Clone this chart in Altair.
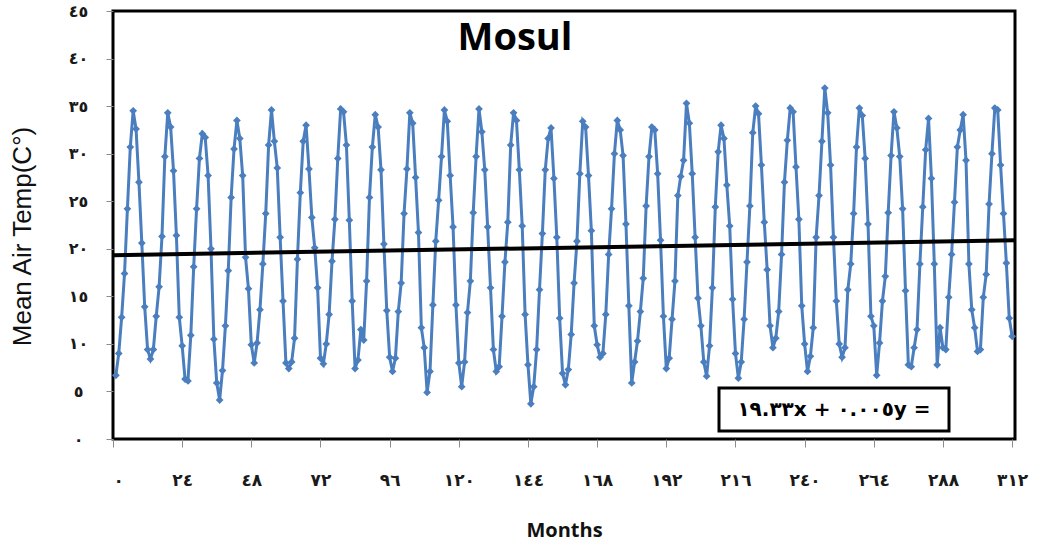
import altair as alt
import pandas as pd

# Monthly mean air temperature at Mosul (26 years x 12 months)
temps = [
    6.7, 9.0, 12.8, 17.4, 24.2, 30.7, 34.5, 32.6, 27.0, 20.6, 13.9, 9.4,
    8.4, 9.4, 12.9, 16.0, 21.3, 29.7, 34.3, 32.8, 28.2, 21.4, 12.8, 9.8,
    6.3, 6.1, 10.9, 18.1, 24.2, 29.5, 32.1, 31.7, 27.7, 20.0, 10.5, 5.9,
    4.1, 7.2, 11.9, 17.7, 25.4, 30.5, 33.5, 31.6, 27.7, 19.1, 15.8, 9.9,
    8.0, 10.1, 13.6, 18.4, 23.7, 30.9, 34.6, 31.3, 28.5, 21.2, 14.5, 8.0,
    7.4, 8.1, 10.6, 18.9, 25.9, 31.3, 33.0, 28.4, 23.3, 20.1, 15.9, 8.5,
    7.9, 10.0, 13.1, 18.7, 23.1, 29.5, 34.7, 34.4, 30.9, 23.0, 14.5, 7.4,
    8.3, 11.5, 10.4, 16.6, 25.4, 30.7, 34.1, 32.8, 28.3, 20.5, 13.5, 8.6,
    7.1, 8.5, 13.4, 16.4, 23.7, 28.4, 34.3, 33.2, 27.5, 21.7, 11.7, 9.6,
    4.9, 7.1, 14.1, 20.8, 25.1, 29.7, 34.6, 33.4, 27.7, 22.3, 14.1, 8.0,
    5.5, 8.1, 13.3, 16.6, 23.8, 29.7, 34.7, 32.3, 28.3, 22.3, 15.9, 9.4,
    7.1, 7.6, 12.9, 18.6, 22.8, 30.9, 34.3, 33.5, 28.3, 22.4, 13.1, 7.8,
    3.7, 5.5, 9.4, 15.7, 21.6, 28.3, 31.6, 32.7, 27.4, 21.2, 12.7, 6.9,
    5.7, 7.3, 11.0, 16.4, 20.8, 27.9, 33.4, 32.8, 27.7, 21.9, 11.9, 9.9,
    8.6, 9.0, 13.1, 19.4, 24.2, 30.0, 33.5, 32.5, 29.8, 22.6, 14.0, 5.9,
    8.1, 10.3, 13.4, 16.9, 24.5, 29.7, 32.8, 32.5, 27.9, 20.9, 12.9, 7.4,
    8.5, 12.6, 16.6, 25.6, 27.6, 29.3, 35.3, 33.2, 27.9, 21.2, 14.8, 11.9,
    8.1, 6.6, 9.8, 15.9, 24.4, 30.2, 33.0, 31.6, 26.7, 22.4, 14.7, 9.0,
    6.4, 8.1, 12.6, 18.6, 24.5, 32.2, 35.0, 34.2, 28.8, 22.8, 17.8, 11.9,
    9.6, 10.6, 13.4, 19.4, 27.0, 31.4, 34.8, 34.4, 28.6, 23.1, 14.0, 10.0,
    7.1, 8.7, 11.7, 21.2, 25.6, 31.3, 36.9, 34.3, 28.8, 21.2, 14.5, 10.0,
    8.6, 9.6, 15.7, 18.4, 23.7, 30.7, 34.8, 34.0, 29.5, 22.6, 12.9, 11.9,
    6.7, 10.1, 14.5, 17.1, 23.8, 29.8, 34.4, 32.7, 29.7, 24.2, 15.6, 7.8,
    7.6, 9.6, 11.5, 18.4, 24.4, 30.4, 33.7, 27.4, 18.4, 7.8, 11.7, 9.6,
    9.4, 14.9, 19.4, 24.9, 30.7, 32.5, 34.1, 29.3, 18.4, 13.6, 11.7, 9.2,
    9.4, 14.9, 17.3, 24.7, 30.0, 34.8, 34.6, 28.8, 23.7, 18.5, 12.7, 10.8,
]
months = list(range(1, len(temps) + 1))

# Linear trend line (endpoints from the printed equation y = 0.005x + 19.33)
trend_x = [0, 313]
trend_y = [19.33, 20.89]

x_tick_values = [0, 24, 48, 72, 96, 120, 144, 168, 192, 216, 240, 264, 288, 312]
x_tick_labels = ["٠", "٢٤", "٤٨", "٧٢", "٩٦", "١٢٠", "١٤٤", "١٦٨", "١٩٢", "٢١٦", "٢٤٠", "٢٦٤", "٢٨٨", "٣١٢"]
y_tick_values = [0, 5, 10, 15, 20, 25, 30, 35, 40, 45]
y_tick_labels = ["٠", "٥", "١٠", "١٥", "٢٠", "٢٥", "٣٠", "٣٥", "٤٠", "٤٥"]

title_text = "Mosul"
equation_text = "١٩.٣٣x + ٠.٠٠٥y ="
x_title = "Months"
y_title = "Mean Air Temp(C°)"

df = pd.DataFrame({"month": months, "temp": temps})
trend_df = pd.DataFrame({"month": trend_x, "temp": trend_y})


def label_expr(values, labels):
    vals = ",".join(str(v) for v in values)
    labs = ",".join("'" + l + "'" for l in labels)
    return f"[{labs}][indexof([{vals}], datum.value)]"


x_scale = alt.Scale(domain=[0, 313], nice=False, zero=False)
y_scale = alt.Scale(domain=[0, 45], nice=False)

x_axis = alt.Axis(
    values=x_tick_values,
    labelExpr=label_expr(x_tick_values, x_tick_labels),
    grid=False, domain=False,
    tickColor="#8c8c8c", tickSize=8, tickWidth=1,
    labelFont="DejaVu Sans", labelFontWeight="bold", labelFontSize=17,
    labelColor="#1a1a1a", labelPadding=33, labelBaseline="middle",
    title=x_title, titleFont="Open Sans", titleFontWeight="bold",
    titleFontSize=20, titleColor="#111111",
    titleY=91, titleBaseline="middle",
)
y_axis = alt.Axis(
    values=y_tick_values,
    labelExpr=label_expr(y_tick_values, y_tick_labels),
    grid=False, domain=False,
    tickColor="#8c8c8c", tickSize=7, tickWidth=1,
    labelFont="DejaVu Sans", labelFontWeight="bold", labelFontSize=16,
    labelColor="#1a1a1a", labelPadding=28, labelAlign="center",
    labelBaseline="middle",
    title=y_title, titleFont="Liberation Sans", titleFontWeight="normal",
    titleFontSize=26, titleColor="#111111",
    titleX=-91, titleY=225, titleAngle=-90,
    titleAlign="center", titleBaseline="middle",
)

series = alt.Chart(df).mark_line(
    color="#4A7EBF", strokeWidth=3,
    point=alt.OverlayMarkDef(shape="diamond", size=60, filled=True, color="#4A7EBF"),
).encode(
    x=alt.X("month:Q", scale=x_scale, axis=x_axis),
    y=alt.Y("temp:Q", scale=y_scale, axis=y_axis),
)

trend = alt.Chart(trend_df).mark_line(color="black", strokeWidth=4).encode(
    x=alt.X("month:Q", scale=x_scale),
    y=alt.Y("temp:Q", scale=y_scale),
)

title_mark = alt.Chart(pd.DataFrame({"t": [title_text]})).mark_text(
    font="Open Sans", fontWeight="bold", fontSize=38, color="black",
    align="center", baseline="alphabetic",
).encode(x=alt.value(402), y=alt.value(39), text="t:N")

eq_box = alt.Chart(pd.DataFrame({"t": [equation_text]})).mark_rect(
    fill="white", stroke="black", strokeWidth=3,
).encode(x=alt.value(606), x2=alt.value(836), y=alt.value(377), y2=alt.value(420))

eq_text = alt.Chart(pd.DataFrame({"t": [equation_text]})).mark_text(
    font="DejaVu Sans", fontWeight="bold", fontSize=20, color="black",
    align="center", baseline="middle",
).encode(x=alt.value(721), y=alt.value(399), text="t:N")

chart = alt.layer(series, trend, title_mark, eq_box, eq_text).properties(
    width=902, height=428,
    autosize=alt.AutoSizeParams(type="none"),
    padding={"left": 113, "top": 11, "right": 24, "bottom": 110},
    background="white",
).configure_view(stroke="black", strokeWidth=3)

chart.save("out.html", embed_options={"renderer": "svg", "actions": False})
